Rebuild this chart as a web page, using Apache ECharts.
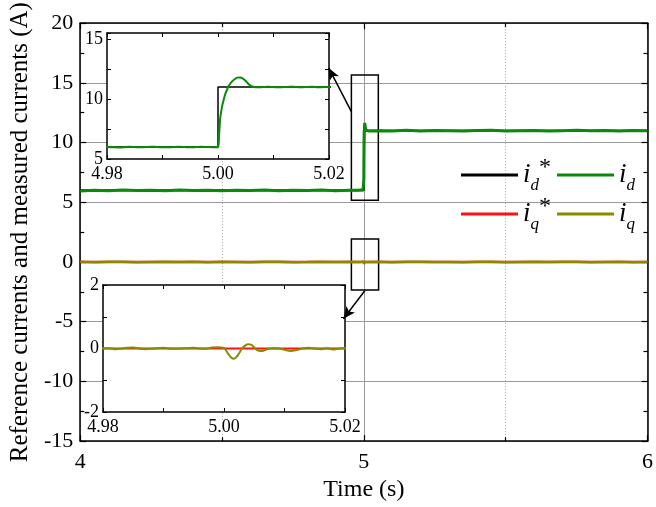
<!DOCTYPE html>
<html><head><meta charset="utf-8">
<script src="https://cdn.jsdelivr.net/npm/echarts@6/dist/echarts.min.js"></script>
<style>html,body{margin:0;padding:0;background:#fff}#c{width:656px;height:507px}</style>
</head><body><div id="c"></div>
<script>
// ---- data ----
const TIME = [
  4.00,4.05,4.10,4.15,4.20,4.25,4.30,4.35,4.40,4.45,4.50,4.55,4.60,4.65,4.70,4.75,4.80,4.85,4.90,4.95,
  4.980,4.981,4.982,4.983,4.984,4.985,4.986,4.987,4.988,4.989,4.990,4.991,4.992,4.993,4.994,4.995,4.996,4.997,4.998,4.999,
  5.0000,5.0002,5.0004,5.0007,5.0010,5.0013,5.0016,5.0020,5.0025,5.0030,5.0035,5.0040,5.0045,5.0050,5.0055,5.0060,5.0065,5.0070,
  5.008,5.009,5.010,5.011,5.012,5.013,5.014,5.015,5.016,5.017,5.018,5.019,5.020,
  5.05,5.10,5.15,5.20,5.25,5.30,5.35,5.40,5.45,5.50,5.55,5.60,5.65,5.70,5.75,5.80,5.85,5.90,5.95,6.00
];
const ID = [
  5.95,6.00,5.97,6.02,5.98,6.00,5.96,6.03,5.99,6.00,5.97,6.01,5.98,6.02,5.96,6.00,5.99,6.02,5.97,6.00,
  6.00,5.98,5.96,5.98,6.02,6.00,5.97,5.99,6.03,6.00,5.98,5.97,6.00,6.02,6.00,5.97,5.99,6.02,6.00,5.98,
  6.00,7.00,8.40,9.30,9.90,10.40,10.75,11.15,11.45,11.65,11.78,11.80,11.70,11.50,11.25,11.07,11.00,10.97,
  10.99,11.02,11.00,10.97,10.99,11.03,11.00,10.98,11.01,11.02,10.97,11.00,11.01,
  11.00,10.97,11.03,10.98,11.02,11.00,10.96,11.01,11.03,10.98,11.00,11.02,10.97,11.00,11.03,10.99,11.01,10.97,11.02,11.00
];
const IQ = [
  0.02,-0.03,0.01,0.03,-0.02,0.00,0.02,-0.01,0.03,-0.02,0.01,0.00,-0.03,0.02,0.01,-0.02,0.00,0.03,-0.01,0.01,
  0.00,0.01,-0.02,-0.01,0.02,0.03,0.00,-0.02,-0.01,0.01,0.02,0.00,-0.01,0.00,0.01,0.02,0.00,-0.01,0.03,0.04,
  0.02,-0.02,-0.08,-0.17,-0.25,-0.30,-0.32,-0.28,-0.15,0.00,0.09,0.13,0.12,0.03,-0.05,-0.08,-0.07,-0.03,
  0.01,0.00,-0.04,-0.08,-0.05,0.00,0.02,0.00,-0.02,0.01,-0.03,0.00,0.01,
  0.02,-0.02,0.01,0.03,-0.01,0.00,-0.03,0.02,0.01,-0.02,0.00,0.02,-0.01,0.01,0.03,-0.02,0.00,0.01,-0.02,0.00
];
const REF_TIME = [4.0, 5.0, 5.0, 6.0];
const ID_REF = [6, 6, 11, 11];
const IQ_REF = [0, 0, 0, 0];
const MAIN_X_TICKS = [4, 5, 6];
const MAIN_Y_TICKS = [-15, -10, -5, 0, 5, 10, 15, 20];
const INSET_X_TICKS = ['4.98', '5.00', '5.02'];

// ---- chart ----
const FONT = 'Liberation Serif';
const pairs = (xs, ys) => xs.map((x, i) => [x, ys[i]]);
const chart = echarts.init(document.getElementById('c'), null, {renderer: 'canvas'});

function mainAxisCommon(extra) {
  return Object.assign({
    type: 'value', gridIndex: 0,
    axisLine: {show: true, onZero: false, lineStyle: {color: '#000', width: 1.5}},
    axisTick: {show: true, inside: true, length: 6, lineStyle: {color: '#000', width: 1.2}},
    minorTick: {show: true, splitNumber: 2, length: 4, lineStyle: {color: '#000', width: 1.2}},
    axisLabel: {show: false}, splitLine: {show: false}
  }, extra);
}
function insetAxis(extra) {
  return Object.assign({
    type: 'value', z: 4,
    axisLine: {show: true, onZero: false, lineStyle: {color: '#000', width: 1.5}},
    axisTick: {show: true, inside: true, length: 4, lineStyle: {color: '#000', width: 1}},
    axisLabel: {show: false}, splitLine: {show: false}
  }, extra);
}
const insetXFormatter = v => {
  const k = Math.round(v * 100);
  const s = (k / 100).toFixed(2);
  return INSET_X_TICKS.indexOf(s) >= 0 ? s : '';
};
const lab = (fs, extra) => Object.assign({show: true, color: '#000', fontFamily: FONT, fontSize: fs}, extra || {});

const legendRich = {
  i: {fontFamily: FONT, fontStyle: 'italic', fontSize: 27, color: '#000', lineHeight: 30, verticalAlign: 'middle'},
  sub: {fontFamily: FONT, fontStyle: 'italic', fontSize: 17, color: '#000', lineHeight: 38, verticalAlign: 'bottom'},
  sup: {fontFamily: FONT, fontSize: 24, color: '#000', lineHeight: 38, verticalAlign: 'top'}
};
const legendFmt = name => ({
  'id*': '{i|i}{sub|d}{sup|*}', 'id': '{i|i}{sub|d}',
  'iq*': '{i|i}{sub|q}{sup|*}', 'iq': '{i|i}{sub|q}'
})[name];

const option = {
  animation: false,
  backgroundColor: '#fff',
  grid: [
    {left: 79, right: 4, top: 23, bottom: 64, show: false},
    {left: 107, top: 33, width: 222, height: 126, show: true, backgroundColor: '#fff', borderWidth: 0, z: 3},
    {left: 103, top: 285, width: 242, height: 127, show: true, backgroundColor: '#fff', borderWidth: 0, z: 3}
  ],
  legend: [
    {data: ['id*', 'id'], left: 461, top: 156, padding: 0, orient: 'horizontal', icon: 'rect', itemWidth: 57, itemHeight: 3, itemGap: 6,
     formatter: legendFmt, textStyle: {rich: legendRich}, selectedMode: false},
    {data: ['iq*', 'iq'], left: 461, top: 195, padding: 0, orient: 'horizontal', icon: 'rect', itemWidth: 57, itemHeight: 3, itemGap: 6,
     formatter: legendFmt, textStyle: {rich: legendRich}, selectedMode: false}
  ],
  xAxis: [
    mainAxisCommon({position: 'bottom', min: 4, max: 6, interval: 1,
      axisLabel: lab(22, {margin: 10, formatter: v => MAIN_X_TICKS.indexOf(v) >= 0 ? String(v) : ''}),
      splitLine: {show: true, lineStyle: {color: '#9a9a9a', width: 1}},
      minorSplitLine: {show: true, lineStyle: {color: '#aaaaaa', width: 1, type: [1, 2]}},
      name: 'Time (s)', nameLocation: 'middle', nameGap: 33,
      nameTextStyle: {color: '#000', fontFamily: FONT, fontSize: 24}}),
    mainAxisCommon({position: 'top', min: 4, max: 6, interval: 1}),
    insetAxis({gridIndex: 1, position: 'bottom', min: 4.98, max: 5.02, interval: 0.01,
      axisLabel: lab(18, {margin: 6, formatter: insetXFormatter})}),
    insetAxis({gridIndex: 1, position: 'top', min: 4.98, max: 5.02, interval: 0.01}),
    insetAxis({gridIndex: 2, position: 'bottom', min: 4.98, max: 5.02, interval: 0.01,
      axisLabel: lab(18, {margin: 6, formatter: insetXFormatter})}),
    insetAxis({gridIndex: 2, position: 'top', min: 4.98, max: 5.02, interval: 0.01})
  ],
  yAxis: [
    mainAxisCommon({position: 'left', min: -15, max: 20, interval: 5,
      axisLabel: lab(22, {margin: 7, formatter: v => MAIN_Y_TICKS.indexOf(v) >= 0 ? String(v) : ''}),
      splitLine: {show: true, lineStyle: {color: '#9a9a9a', width: 1}},
      name: 'Reference currents and measured currents (A)', nameLocation: 'middle', nameGap: 40,
      nameTextStyle: {color: '#000', fontFamily: FONT, fontSize: 25}}),
    mainAxisCommon({position: 'right', min: -15, max: 20, interval: 5}),
    insetAxis({gridIndex: 1, position: 'left', min: 5, max: 15.5, interval: 2.5,
      axisLabel: lab(18, {margin: 4, formatter: v => Math.abs(v / 5 - Math.round(v / 5)) < 1e-6 ? String(v) : ''})}),
    insetAxis({gridIndex: 1, position: 'right', min: 5, max: 15.5, interval: 2.5}),
    insetAxis({gridIndex: 2, position: 'left', min: -2, max: 2, interval: 1,
      axisLabel: lab(18, {margin: 4, formatter: v => (Math.round(v) % 2 === 0) ? String(v) : ''})}),
    insetAxis({gridIndex: 2, position: 'right', min: -2, max: 2, interval: 1})
  ],
  series: [
    // main plot
    {name: 'id*', type: 'line', xAxisIndex: 0, yAxisIndex: 0, data: pairs(REF_TIME, ID_REF), showSymbol: false, symbol: 'none',
     color: '#000000', lineStyle: {color: '#000000', width: 2}, z: 2},
    {name: 'id', type: 'line', xAxisIndex: 0, yAxisIndex: 0, data: pairs(TIME, ID), showSymbol: false, symbol: 'none',
     color: '#0a8a0a', lineStyle: {color: '#0a8a0a', width: 3}, z: 2,
     markArea: {silent: true, itemStyle: {color: 'rgba(0,0,0,0)', borderColor: '#000', borderWidth: 1.5},
       label: {show: false},
       data: [[{coord: [4.956, 15.67]}, {coord: [5.051, 5.17]}],
              [{coord: [4.956, 1.92]}, {coord: [5.052, -2.35]}]]},
     markLine: {silent: true, symbol: ['none', 'arrow'], symbolSize: [8, 12], label: {show: false},
       lineStyle: {color: '#000', width: 1.5, type: 'solid'},
       data: [[{coord: [4.9564, 12.58]}, {coord: [4.876, 16.25]}],
              [{coord: [5.004, -2.39]}, {coord: [4.928, -4.75]}]]}},
    {name: 'iq*', type: 'line', xAxisIndex: 0, yAxisIndex: 0, data: pairs(REF_TIME, IQ_REF), showSymbol: false, symbol: 'none',
     color: '#ff1010', lineStyle: {color: '#ff1010', width: 2.5}, z: 2},
    {name: 'iq', type: 'line', xAxisIndex: 0, yAxisIndex: 0, data: pairs(TIME, IQ), showSymbol: false, symbol: 'none',
     color: '#8a8a00', lineStyle: {color: '#8a8a00', width: 2.5}, z: 2},
    // inset 1
    {name: 'id*', type: 'line', xAxisIndex: 2, yAxisIndex: 2, data: pairs(REF_TIME, ID_REF), showSymbol: false, symbol: 'none',
     color: '#000000', lineStyle: {color: '#000000', width: 1.5}, z: 5},
    {name: 'id', type: 'line', xAxisIndex: 2, yAxisIndex: 2, data: pairs(TIME, ID), showSymbol: false, symbol: 'none', smooth: 0.3,
     color: '#0a8a0a', lineStyle: {color: '#0a8a0a', width: 2}, z: 5},
    // inset 2
    {name: 'iq*', type: 'line', xAxisIndex: 4, yAxisIndex: 4, data: pairs(REF_TIME, IQ_REF), showSymbol: false, symbol: 'none',
     color: '#ff1010', lineStyle: {color: '#ff1010', width: 2}, z: 5},
    {name: 'iq', type: 'line', xAxisIndex: 4, yAxisIndex: 4, data: pairs(TIME, IQ), showSymbol: false, symbol: 'none', smooth: 0.3,
     color: '#8a8a00', lineStyle: {color: '#8a8a00', width: 2}, z: 5}
  ]
};
chart.setOption(option);
</script></body></html>
